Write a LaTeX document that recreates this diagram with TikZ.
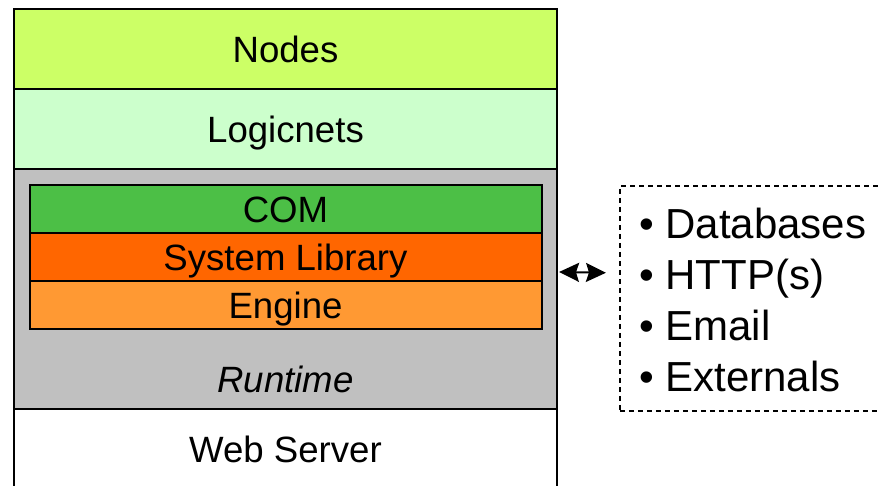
\documentclass[tikz,border=0pt]{standalone}
\usepackage{fontspec}
\setmainfont{Liberation Sans}
\usetikzlibrary{positioning, arrows.meta}
\definecolor{nodesgreen}{HTML}{CCFF66}
\definecolor{logicgreen}{HTML}{CCFFCC}
\definecolor{runtimegray}{HTML}{C0C0C0}
\definecolor{comgreen}{HTML}{4CBF46}
\definecolor{syslib}{HTML}{FF6600}
\definecolor{engine}{HTML}{FF9933}

\begin{document}
\begin{tikzpicture}[x=1pt, y=-1pt,
  layer/.style = {draw, rectangle, line width=2pt, outer sep=0pt, inner sep=0pt,
    minimum width=543pt, text height=26.2pt, text depth=0pt,
    font=\fontsize{36.6}{44}\selectfont},
  sublayer/.style = {layer, minimum width=512pt, minimum height=48pt},
  extitem/.style = {anchor=base west, inner sep=0pt, font=\fontsize{42}{51}\selectfont},
  biarrow/.style = {arrows={Stealth[length=20pt, width=19pt, inset=3pt]-Stealth[length=20pt, width=19pt, inset=3pt]}, line width=2pt}]
\useasboundingbox (0,0) rectangle (878,485);
\clip (0,0) rectangle (878,485);
% stack
\node[layer, fill=nodesgreen, minimum height=80pt, anchor=north] (nodes) at (285.5,9) {Nodes};
\node[layer, fill=logicgreen, minimum height=80pt, below=0pt of nodes] (logic) {Logicnets};
\node[layer, fill=runtimegray, minimum height=240pt, below=0pt of logic] (runtime) {};
\node[layer, fill=white, minimum height=80pt, below=0pt of runtime] (web) {Web Server};
\node[sublayer, fill=comgreen, anchor=north] (com) at ([yshift=-16pt]runtime.north) {COM};
\node[sublayer, fill=syslib, below=0pt of com] (sys) {System Library};
\node[sublayer, fill=engine, below=0pt of sys] (eng) {Engine};
\node[anchor=base, inner sep=0pt, font=\fontsize{36.6}{44}\selectfont\itshape] (rtlabel)
  at ([yshift=17pt]runtime.south) {Runtime};
% externals
\node[draw, dash pattern=on 5pt off 4pt, line width=1.5pt, rectangle,
  minimum width=300pt, minimum height=225pt, anchor=north west] (ext) at (619,185) {};
\node[extitem] (db) at (639,238) {\textbullet\ Databases};
\node[extitem] (http) at (639,289) {\textbullet\ HTTP(s)};
\node[extitem] (mail) at (639,340) {\textbullet\ Email};
\node[extitem] (xt) at (639,391) {\textbullet\ Externals};
\draw[biarrow] ([xshift=2pt, yshift=17pt]runtime.east) -- ([xshift=-13pt, yshift=25.5pt]ext.west);
\end{tikzpicture}
\end{document}
